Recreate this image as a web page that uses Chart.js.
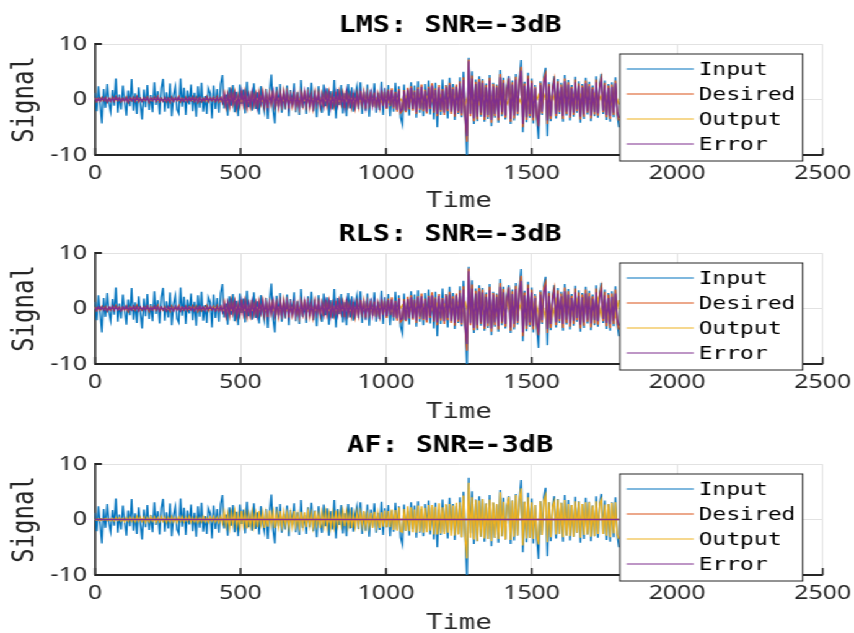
<!DOCTYPE html>
<html>
<head>
<meta charset="utf-8">
<script src="https://cdn.jsdelivr.net/npm/chart.js@4.4.1/dist/chart.umd.min.js"></script>
<style>
  html, body { margin: 0; padding: 0; background: #fff; overflow: hidden; }
  #wrap { width: 689px; transform: scaleX(1.2395); transform-origin: 0 0; }
  canvas { display: block; }
</style>
</head>
<body>
<div id="wrap">
  <canvas id="lms" width="689" height="211"></canvas>
  <canvas id="rls" width="689" height="211"></canvas>
  <canvas id="af" width="689" height="211"></canvas>
</div>
<script>
// sample spacing (time units) of the arrays below
const fineStep = 6;
const coarseStep = 12;

const xTicks = [0, 500, 1000, 1500, 2000, 2500];
const xTickLabels = ['0', '500', '1000', '1500', '2000', '2500'];
const yTicks = [-10, 0, 10];
const yTickLabels = ['-10', '0', '10'];
const seriesNames = ['Input', 'Desired', 'Output', 'Error'];

// noisy input, t = 0..1800 every 6
const input = [
  1.2,-2.1,2.4,-0.8,-4.3,1.9,-1.5,2.8,-0.6,-2.2,
  1.7,-1.1,3.8,-2.4,0.9,-1.8,2.5,-0.4,-2.9,1.6,
  -1.2,3.7,-2.0,1.1,-2.6,2.2,-0.7,-3.6,1.8,-1.4,
  2.6,-1.9,0.8,-2.3,3.1,-1.0,1.5,-2.7,2.0,3.7,
  -2.2,1.3,-1.6,2.9,-3.0,0.7,2.3,-1.8,-2.5,3.8,
  -1.3,2.1,-2.8,1.6,-0.9,2.7,-2.1,1.2,-3.1,2.4,
  -1.5,3.0,-2.2,0.6,-2.6,2.0,1.1,-3.4,2.5,-1.7,
  1.9,-2.4,2.8,4.4,-1.6,0.9,-2.9,2.2,-1.1,2.6,
  -2.3,1.4,-3.0,2.7,-0.8,1.8,-2.5,3.2,-1.4,0.7,
  -2.0,2.9,-1.7,1.3,-2.7,2.4,-0.6,-2.2,1.9,-3.5,
  1.5,4.5,-1.9,-4.3,2.3,-1.2,2.8,-2.4,1.0,-1.8,
  2.5,-3.0,1.7,-0.9,2.9,-2.3,1.3,-2.8,3.5,-1.5,
  0.8,-2.6,2.2,-1.4,3.0,-2.1,1.6,-3.2,2.4,-0.7,
  -2.4,2.7,-1.2,2.0,-2.9,1.5,-1.8,3.5,-3.4,1.9,
  -1.0,2.6,-2.5,1.1,-3.0,2.8,-1.6,2.2,-2.2,0.9,
  2.4,-1.7,3.1,-2.6,1.4,-2.0,2.7,-3.1,1.8,-1.3,
  2.9,-2.4,1.2,-1.9,3.2,-2.8,2.0,-1.4,2.6,-3.0,
  1.6,-2.2,3.0,-1.8,2.4,-3.2,-4.5,2.7,-2.0,1.5,
  -2.9,3.1,-1.7,2.5,-3.3,3.3,-2.4,1.9,-3.0,2.8,
  -1.6,3.4,-2.7,2.2,-3.6,3.0,-5.0,1.8,-2.8,3.6,
  -2.3,2.6,-3.4,3.9,-1.9,2.8,-3.7,2.4,-2.6,4.0,
  -3.2,5.0,-3.0,-10.5,7.5,-2.5,5.1,-4.4,3.6,-3.9,
  4.2,-3.1,3.7,-4.0,2.9,-3.5,4.4,-4.8,3.0,-3.3,
  2.7,-4.2,5.3,-3.0,3.9,-3.6,2.5,4.2,-4.4,3.4,
  -3.8,4.6,-2.9,3.5,7.1,-5.9,3.2,-4.1,4.8,-3.3,
  3.8,-4.3,2.6,-3.6,-7.1,3.3,-2.8,4.0,5.7,-6.6,
  3.1,-3.9,2.4,4.2,-3.4,3.7,-2.6,3.0,-4.0,4.4,
  -2.9,3.5,-3.8,2.6,-3.1,4.1,-2.4,3.3,-4.2,2.8,
  -3.5,3.9,-2.7,3.2,-3.9,2.5,-3.0,4.2,-3.3,2.9,
  4.6,-2.6,3.4,-3.7,2.8,-4.0,3.1,-3.2,4.0,-2.7,
  -5.0
];

// clean desired signal, t = 0..1800 every 6
const desired = [
  0.3,-0.4,0.2,-0.3,0.4,-0.2,0.3,-0.5,0.2,-0.3,
  0.4,-0.3,0.5,-0.2,0.3,-0.4,0.2,-0.3,0.4,-0.5,
  0.3,-0.2,0.4,-0.3,0.5,-0.4,0.2,-0.3,0.3,-0.2,
  0.4,-0.5,0.3,-0.2,0.4,-0.3,0.5,-0.4,0.2,-0.3,
  0.3,-0.4,0.2,-0.5,0.4,-0.3,0.3,-0.2,0.5,-0.4,
  0.2,-0.3,0.4,-0.4,0.3,-0.2,0.5,-0.3,0.4,-0.5,
  0.3,-0.4,0.2,-0.3,0.5,-0.4,0.3,-0.2,0.4,-0.3,
  0.5,-0.4,0.3,-0.6,1.1,-1.3,0.9,-1.2,1.4,-0.8,
  1.2,-1.5,0.7,-1.1,1.6,-0.9,1.3,-1.4,0.8,-1.2,
  1.5,-1.0,0.9,-1.6,1.2,-0.7,1.4,-1.3,1.0,-1.5,
  1.1,-0.8,1.6,-1.2,0.9,-1.4,1.3,-1.0,1.5,-0.9,
  1.2,-1.6,0.8,-1.1,1.4,-1.3,0.7,-1.5,1.2,-0.9,
  1.6,-1.2,1.0,-1.4,0.8,-1.5,1.3,-0.9,1.1,-1.3,
  0.9,-1.4,1.5,-1.0,1.2,-1.6,0.8,-1.1,1.4,-1.2,
  1.3,-0.8,1.1,-1.5,1.6,-1.0,0.9,-1.3,1.2,-1.4,
  1.0,-1.2,1.5,-0.9,1.3,-1.6,1.1,-1.0,1.4,-1.3,
  1.2,-1.5,0.9,-1.3,1.6,-1.1,1.4,-1.7,1.8,-1.2,
  2.0,-1.6,1.4,-2.2,1.9,-2.4,-2.0,1.7,-2.3,2.1,
  -1.8,2.4,-2.0,1.6,-2.6,2.2,-1.9,2.7,-2.1,1.8,
  -2.5,2.3,-1.7,2.9,-2.4,2.0,-3.0,2.6,-2.2,1.9,
  -2.8,2.5,-2.1,3.0,-2.6,2.2,-3.1,2.7,-2.4,3.3,
  -2.9,4.0,-3.5,-7.6,7.2,-3.0,4.3,-3.9,3.2,-3.6,
  3.7,-2.8,3.4,-3.7,2.6,-3.2,3.9,-4.2,2.8,-3.0,
  2.5,-3.8,4.6,-2.7,3.5,-3.3,2.2,3.8,-4.0,3.1,
  -3.4,4.1,-2.6,3.2,5.9,-5.0,2.9,-3.7,4.3,-3.0,
  3.4,-3.8,2.3,-3.2,-4.8,3.0,-2.5,3.6,4.6,-4.4,
  2.8,-3.5,2.1,3.6,-3.0,3.3,-2.3,2.7,-3.5,3.8,
  -2.6,3.1,-3.3,2.3,-2.8,3.6,-2.1,2.9,-3.6,2.5,
  -3.1,3.4,-2.4,2.8,-3.4,2.2,-2.7,3.6,-2.9,2.6,
  3.9,-2.3,3.0,-3.2,2.5,-3.5,2.7,-2.8,3.4,-2.4,
  -3.8
];

// LMS filter output (every 12) and error (every 6)
const lmsOutput = [
  0.0,0.1,-0.1,0.1,-0.1,0.1,-0.1,0.1,-0.1,0.1,
  -0.1,0.1,-0.1,0.1,-0.1,0.1,-0.1,0.1,-0.1,0.1,
  -0.1,0.1,-0.1,0.1,-0.1,0.1,-0.1,0.1,-0.1,0.1,
  -0.1,0.1,-0.2,0.2,-0.1,0.3,-0.3,0.2,-0.3,0.3,
  -0.2,0.3,-0.3,0.2,-0.3,0.3,-0.2,0.3,-0.3,0.2,
  -0.3,0.2,-0.3,0.3,-0.2,0.3,-0.3,0.2,-0.3,0.3,
  -0.2,0.3,-0.3,0.2,-0.3,0.3,-0.2,0.3,-0.3,0.2,
  -0.3,0.3,-0.2,0.3,-0.3,0.2,-0.3,0.3,-0.2,0.3,
  -0.3,0.4,-0.4,0.3,-0.5,0.4,-0.4,0.5,-0.4,0.5,
  -0.5,0.6,-0.5,0.6,-0.6,0.5,-0.7,0.6,-0.6,0.7,
  -0.6,0.7,-0.7,0.6,-0.8,0.5,-0.9,0.8,-0.6,0.7,
  -0.8,0.6,-0.7,0.9,-0.6,0.8,-0.7,0.9,-0.8,0.7,
  -0.9,0.8,-0.7,1.0,-0.8,0.9,-0.7,0.8,-0.9,1.0,
  -0.8,0.9,-1.0,0.8,-0.9,1.0,-0.8,0.7,-0.9,0.8,
  -0.9,1.0,-0.8,0.9,-1.0,0.8,-0.9,1.0,-0.8,0.9,
  -0.9
];
const lmsError = [
  0.3,-0.3,0.2,-0.3,0.3,-0.2,0.3,-0.4,0.2,-0.3,
  0.3,-0.3,0.4,-0.2,0.3,-0.3,0.2,-0.3,0.3,-0.4,
  0.3,-0.2,0.3,-0.3,0.4,-0.3,0.2,-0.3,0.3,-0.2,
  0.3,-0.4,0.3,-0.2,0.3,-0.3,0.4,-0.3,0.2,-0.3,
  0.3,-0.3,0.2,-0.4,0.3,-0.3,0.3,-0.2,0.4,-0.3,
  0.2,-0.3,0.3,-0.3,0.3,-0.2,0.4,-0.3,0.3,-0.4,
  0.3,-0.3,0.2,-0.3,0.4,-0.3,0.3,-0.2,0.3,-0.3,
  0.4,-0.3,0.3,-0.5,1.0,-1.1,0.8,-1.0,1.2,-0.7,
  1.0,-1.3,0.6,-0.9,1.4,-0.8,1.1,-1.2,0.7,-1.0,
  1.3,-0.9,0.8,-1.4,1.0,-0.6,1.2,-1.1,0.9,-1.3,
  0.9,-0.7,1.4,-1.0,0.8,-1.2,1.1,-0.9,1.3,-0.8,
  1.0,-1.4,0.7,-0.9,1.2,-1.1,0.6,-1.3,1.0,-0.8,
  1.4,-1.0,0.9,-1.2,0.7,-1.3,1.1,-0.8,0.9,-1.1,
  0.8,-1.2,1.3,-0.9,1.0,-1.4,0.7,-0.9,1.2,-1.0,
  1.1,-0.7,0.9,-1.3,1.4,-0.9,0.8,-1.1,1.0,-1.2,
  0.9,-1.0,1.3,-0.8,1.1,-1.4,0.9,-0.9,1.2,-1.1,
  1.0,-1.3,0.8,-1.1,1.4,-0.9,1.2,-1.5,1.6,-1.0,
  1.7,-1.4,1.2,-1.9,1.6,-2.1,-1.7,1.5,-2.0,1.8,
  -1.5,2.1,-1.7,1.4,-2.3,1.9,-1.6,2.3,-1.8,1.5,
  -2.2,2.0,-1.5,2.5,-2.1,1.7,-2.6,2.2,-1.9,1.6,
  -2.4,2.2,-1.8,2.6,-2.2,1.9,-2.7,2.3,-2.1,2.9,
  -2.5,3.5,-3.0,-6.6,6.9,-2.6,3.8,-3.4,2.8,-3.1,
  3.2,-2.4,3.0,-3.2,2.2,-2.8,3.4,-3.7,2.4,-2.6,
  2.2,-3.3,4.0,-2.3,3.0,-2.9,1.9,3.3,-3.5,2.7,
  -2.9,3.6,-2.2,2.8,5.2,-4.4,2.5,-3.2,3.8,-2.6,
  3.0,-3.3,2.0,-2.8,-4.2,2.6,-2.2,3.1,4.0,-3.8,
  2.4,-3.0,1.8,3.1,-2.6,2.9,-2.0,2.3,-3.0,3.3,
  -2.2,2.7,-2.9,2.0,-2.4,3.1,-1.8,2.5,-3.1,2.2,
  -2.7,2.9,-2.1,2.4,-2.9,1.9,-2.3,3.1,-2.5,2.2,
  3.4,-2.0,2.6,-2.8,2.1,-3.0,2.3,-2.4,2.9,-2.1,
  -3.3
];

// RLS filter output (every 12) and error (every 6)
const rlsOutput = [
  0.0,-0.1,0.1,-0.1,0.1,-0.1,0.1,-0.1,0.1,-0.1,
  0.1,-0.1,0.1,-0.1,0.1,-0.1,0.1,-0.1,0.1,-0.1,
  0.1,-0.1,0.1,-0.1,0.1,-0.1,0.1,-0.1,0.1,-0.1,
  0.1,-0.1,0.2,-0.2,0.3,-0.2,0.3,-0.3,0.2,-0.3,
  0.3,-0.2,0.3,-0.3,0.2,-0.3,0.3,-0.2,0.3,-0.3,
  0.2,-0.3,0.3,-0.2,0.3,-0.3,0.2,-0.3,0.3,-0.2,
  0.3,-0.3,0.2,-0.3,0.3,-0.2,0.3,-0.3,0.2,-0.3,
  0.3,-0.2,0.3,-0.3,0.2,-0.3,0.3,-0.2,0.3,-0.3,
  0.4,-0.3,0.5,-0.4,0.4,-0.5,0.5,-0.4,0.6,-0.5,
  0.6,-0.5,0.7,-0.6,0.6,-0.7,0.6,-0.7,0.8,-0.6,
  0.7,-0.8,0.6,-0.9,0.8,-0.7,1.0,-0.8,0.9,-0.7,
  0.9,-0.8,1.0,-0.9,0.8,-1.1,0.9,-1.0,1.1,-0.9,
  1.0,-1.2,1.1,-1.0,1.3,-1.1,1.4,-1.2,1.3,-1.5,
  1.4,-1.3,1.5,-1.2,1.6,-1.4,1.3,-1.5,1.4,-1.3,
  1.6,-1.4,1.3,-1.5,1.7,-1.3,1.4,-1.6,1.5,-1.4,
  1.5
];
const rlsError = [
  0.2,-0.3,0.3,-0.2,0.3,-0.3,0.2,-0.4,0.3,-0.2,
  0.4,-0.3,0.3,-0.3,0.2,-0.4,0.3,-0.2,0.4,-0.3,
  0.2,-0.3,0.4,-0.2,0.3,-0.4,0.3,-0.2,0.3,-0.3,
  0.4,-0.3,0.2,-0.3,0.4,-0.2,0.3,-0.4,0.3,-0.2,
  0.2,-0.4,0.3,-0.3,0.2,-0.4,0.4,-0.3,0.3,-0.4,
  0.3,-0.2,0.4,-0.3,0.2,-0.3,0.3,-0.4,0.2,-0.3,
  0.4,-0.2,0.3,-0.4,0.3,-0.2,0.4,-0.3,0.2,-0.4,
  0.3,-0.4,0.4,-0.6,0.9,-1.2,1.0,-0.9,1.1,-0.8,
  1.1,-1.2,0.7,-1.0,1.3,-0.9,1.2,-1.1,0.8,-1.1,
  1.2,-1.0,0.9,-1.3,1.1,-0.7,1.3,-1.0,1.0,-1.2,
  1.0,-0.8,1.3,-1.1,0.9,-1.1,1.2,-1.0,1.2,-0.9,
  1.1,-1.3,0.8,-1.0,1.1,-1.2,0.7,-1.2,1.1,-0.9,
  1.3,-1.1,1.0,-1.1,0.8,-1.2,1.2,-0.9,1.0,-1.0,
  0.9,-1.1,1.2,-1.0,1.1,-1.3,0.8,-1.0,1.1,-1.1,
  1.2,-0.8,1.0,-1.2,1.3,-1.0,0.9,-1.0,1.1,-1.1,
  1.0,-1.1,1.2,-0.9,1.0,-1.3,1.0,-1.0,1.1,-1.2,
  1.1,-1.2,0.9,-1.2,1.3,-1.0,1.1,-1.4,1.5,-1.1,
  1.6,-1.5,1.3,-1.8,1.7,-2.0,-1.8,1.4,-2.1,1.7,
  -1.6,2.0,-1.8,1.5,-2.2,2.0,-1.5,2.2,-1.9,1.6,
  -2.1,2.1,-1.4,2.4,-2.2,1.8,-2.5,2.3,-1.8,1.7,
  -2.3,2.3,-1.7,2.5,-2.3,1.8,-2.6,2.4,-2.0,2.8,
  -2.6,3.4,-3.1,-6.4,6.7,-2.7,3.6,-3.5,2.7,-3.0,
  3.1,-2.5,2.9,-3.3,2.1,-2.7,3.3,-3.6,2.5,-2.5,
  2.1,-3.2,3.9,-2.4,2.9,-2.8,2.0,3.2,-3.4,2.6,
  -2.8,3.5,-2.3,2.7,5.0,-4.3,2.4,-3.1,3.7,-2.5,
  2.9,-3.2,1.9,-2.7,-4.0,2.5,-2.1,3.0,3.8,-3.7,
  2.3,-2.8,1.7,2.9,-2.5,2.7,-1.9,2.2,-2.8,3.1,
  -2.0,2.5,-2.7,1.9,-2.2,2.9,-1.7,2.3,-2.9,2.0,
  -2.5,2.7,-2.0,2.2,-2.7,1.8,-2.1,2.9,-2.3,2.0,
  3.1,-1.9,2.4,-2.6,1.9,-2.8,2.1,-2.2,2.7,-1.9,
  -3.1
];

// AF: desired and error stay flat at zero, output every 6
const afFlatTimes = [0, 1800];
const afDesired = [0, 0];
const afError = [0, 0];
const afOutput = [
  0.1,-0.1,0.1,-0.2,0.1,-0.1,0.2,-0.2,0.1,-0.2,
  0.2,-0.3,0.3,-0.2,0.3,-0.3,0.2,-0.4,0.3,-0.3,
  0.4,-0.3,0.3,-0.4,0.5,-0.3,0.4,-0.3,0.4,-0.5,
  0.3,-0.4,0.5,-0.3,0.4,-0.5,0.3,-0.4,0.5,-0.3,
  0.4,-0.5,0.3,-0.4,0.5,-0.4,0.3,-0.5,0.4,-0.3,
  0.5,-0.4,0.4,-0.3,0.5,-0.5,0.3,-0.4,0.4,-0.5,
  0.3,-0.4,0.5,-0.4,0.3,-0.5,0.4,-0.3,0.5,-0.4,
  0.4,-0.5,0.5,-0.7,1.3,-1.1,1.0,-1.4,1.2,-0.9,
  1.4,-1.2,0.8,-1.3,1.5,-1.0,1.1,-1.6,0.9,-1.1,
  1.3,-1.2,1.0,-1.4,1.5,-0.8,1.2,-1.5,1.1,-1.3,
  1.6,-0.9,1.3,-1.5,1.0,-1.2,1.5,-1.1,1.3,-1.0,
  1.0,-1.4,1.1,-1.2,1.5,-1.1,0.9,-1.3,1.4,-1.1,
  1.3,-1.4,1.2,-1.1,1.0,-1.3,1.5,-1.0,0.9,-1.5,
  1.2,-1.1,1.3,-1.3,1.0,-1.4,1.1,-1.2,1.6,-1.0,
  1.0,-1.0,1.4,-1.2,1.3,-1.2,1.1,-1.5,1.0,-1.2,
  1.3,-1.0,1.2,-1.1,1.5,-1.3,0.9,-1.2,1.2,-1.5,
  1.4,-1.2,1.1,-1.5,1.3,-1.3,1.6,-1.4,1.5,-1.4,
  1.8,-1.9,1.7,-2.0,2.2,-2.1,-2.3,1.9,-2.0,2.4,
  -2.1,2.2,-2.3,1.8,-2.4,2.5,-2.2,2.4,-2.4,2.1,
  -2.3,2.6,-2.0,2.6,-2.7,2.3,-2.7,2.9,-2.5,2.2,
  -2.6,2.8,-2.4,2.8,-2.9,2.5,-2.9,3.0,-2.7,3.1,
  -3.2,4.3,-3.3,-7.0,6.6,-3.3,4.0,-3.6,3.5,-3.9,
  3.4,-3.1,3.7,-3.4,2.9,-3.5,3.6,-3.9,3.1,-3.3,
  2.8,-3.5,4.9,-3.0,3.2,-3.6,2.5,4.1,-3.7,3.4,
  -3.1,4.4,-2.9,3.5,5.6,-4.7,3.2,-3.4,4.0,-3.3,
  3.1,-3.5,2.6,-2.9,-4.5,3.3,-2.8,3.3,4.3,-4.1,
  3.1,-3.2,2.4,3.3,-2.7,3.6,-2.6,3.0,-3.2,3.5,
  -2.9,2.8,-3.0,2.6,-3.1,3.3,-2.4,3.2,-3.3,2.8,
  -2.8,3.1,-2.7,3.1,-3.1,2.5,-3.0,3.3,-2.6,2.9,
  3.6,-2.6,2.7,-2.9,2.8,-3.2,3.0,-2.5,3.1,-2.7,
  -3.5
];

const colors = ['#0072BD', '#D95319', '#EDB120', '#7E2F8E'];
const axisColor = '#262626';
const gridColor = '#e2e2e2';

function stepped(values, step) {
  return values.map((v, i) => ({ x: i * step, y: v }));
}
function paired(times, values) {
  return times.map((t, i) => ({ x: t, y: values[i] }));
}

// MATLAB-like decorations: inward ticks, boxed legend inside the axes, title
const matlabDecor = {
  id: 'matlabDecor',
  beforeDatasetsDraw(chart) {
    const ctx = chart.ctx, a = chart.chartArea;
    const xs = chart.scales.x, ys = chart.scales.y;
    ctx.save();
    ctx.strokeStyle = axisColor;
    ctx.lineWidth = 1.5;
    xTicks.forEach(v => {
      const px = xs.getPixelForValue(v);
      ctx.beginPath(); ctx.moveTo(px, a.bottom); ctx.lineTo(px, a.bottom - 7); ctx.stroke();
    });
    ctx.lineWidth = 2;
    yTicks.forEach(v => {
      const py = ys.getPixelForValue(v);
      ctx.beginPath(); ctx.moveTo(a.left, py); ctx.lineTo(a.left + 5.6, py); ctx.stroke();
    });
    ctx.restore();
  },
  afterDraw(chart, args, opts) {
    const ctx = chart.ctx, a = chart.chartArea;
    ctx.save();
    // legend box
    const right = a.right - 16.1, left = right - 147.6;
    const top = a.top + 10, bottom = a.top + 117;
    ctx.fillStyle = '#fff';
    ctx.fillRect(left, top, right - left, bottom - top);
    ctx.strokeStyle = axisColor;
    ctx.lineWidth = 1;
    ctx.strokeRect(left, top, right - left, bottom - top);
    ctx.font = '18.5px "DejaVu Sans Mono"';
    ctx.textAlign = 'left';
    ctx.textBaseline = 'middle';
    chart.data.datasets.forEach((ds, i) => {
      const y = a.top + 25 + 25 * i;
      ctx.strokeStyle = ds.borderColor;
      ctx.lineWidth = 1.2;
      ctx.beginPath(); ctx.moveTo(left + 5.6, y); ctx.lineTo(left + 59.7, y); ctx.stroke();
      ctx.fillStyle = '#000';
      ctx.fillText(ds.label, left + 63.7, y + 1.5);
    });
    // title
    ctx.font = 'bold 23px "DejaVu Sans Mono"';
    ctx.fillStyle = '#000';
    ctx.textAlign = 'center';
    ctx.textBaseline = 'alphabetic';
    ctx.fillText(opts.title, (a.left + a.right) / 2 - 7, a.top - 12);
    ctx.restore();
  }
};

function makeChart(id, title, seriesData, plotTop, plotBottom) {
  const H = 211;
  const datasets = seriesData.map((d, i) => ({
    label: seriesNames[i],
    data: d,
    borderColor: colors[i],
    backgroundColor: colors[i],
    borderWidth: 1.35,
    pointRadius: 0,
    tension: 0,
    order: 4 - i
  }));
  return new Chart(document.getElementById(id), {
    type: 'line',
    data: { datasets },
    plugins: [matlabDecor],
    options: {
      responsive: false,
      animation: false,
      events: [],
      layout: { padding: { left: 0, right: 25.3, top: plotTop, bottom: 0 } },
      plugins: {
        legend: { display: false },
        tooltip: { enabled: false },
        matlabDecor: { title }
      },
      scales: {
        x: {
          type: 'linear',
          min: 0, max: 2500,
          afterBuildTicks: s => { s.ticks = xTicks.map(v => ({ value: v })); },
          afterFit: s => { s.height = H - plotBottom; s.paddingLeft = 0; s.paddingRight = 0; },
          grid: {
            drawTicks: false,
            lineWidth: 1,
            color: c => (c.tick && c.tick.value === 0) ? 'rgba(0,0,0,0)' : gridColor
          },
          border: { display: true, color: axisColor, width: 2 },
          ticks: {
            autoSkip: false, maxRotation: 0, padding: 6,
            color: axisColor,
            font: { family: 'Noto Sans', size: 20 },
            callback: (v, i) => xTickLabels[i]
          },
          title: {
            display: true, text: 'Time', color: axisColor,
            font: { family: 'DejaVu Sans Mono', size: 22, lineHeight: 0.9 },
            padding: 0
          }
        },
        y: {
          min: -10, max: 10,
          afterBuildTicks: s => { s.ticks = yTicks.map(v => ({ value: v })); },
          afterFit: s => { s.width = 76.6; s.paddingTop = 0; s.paddingBottom = 0; },
          grid: {
            drawTicks: false,
            lineWidth: 1,
            color: c => (c.tick && c.tick.value === -10) ? 'rgba(0,0,0,0)' : gridColor
          },
          border: { display: true, color: axisColor, width: 1.6 },
          ticks: {
            padding: 6.5,
            color: axisColor,
            font: { family: 'Noto Sans', size: 20 },
            callback: (v, i) => yTickLabels[i]
          },
          title: {
            display: true, text: 'Signal', color: axisColor,
            font: { family: 'DejaVu Sans Mono', size: 24 },
            padding: { top: 6.5, bottom: 0 }
          }
        }
      }
    }
  });
}

makeChart('lms', 'LMS: SNR=-3dB', [
  stepped(input, fineStep),
  stepped(desired, fineStep),
  stepped(lmsOutput, coarseStep),
  stepped(lmsError, fineStep)
], 44, 155);

makeChart('rls', 'RLS: SNR=-3dB', [
  stepped(input, fineStep),
  stepped(desired, fineStep),
  stepped(rlsOutput, coarseStep),
  stepped(rlsError, fineStep)
], 42, 153);

makeChart('af', 'AF: SNR=-3dB', [
  stepped(input, fineStep),
  paired(afFlatTimes, afDesired),
  stepped(afOutput, fineStep),
  paired(afFlatTimes, afError)
], 42, 153);
</script>
</body>
</html>
